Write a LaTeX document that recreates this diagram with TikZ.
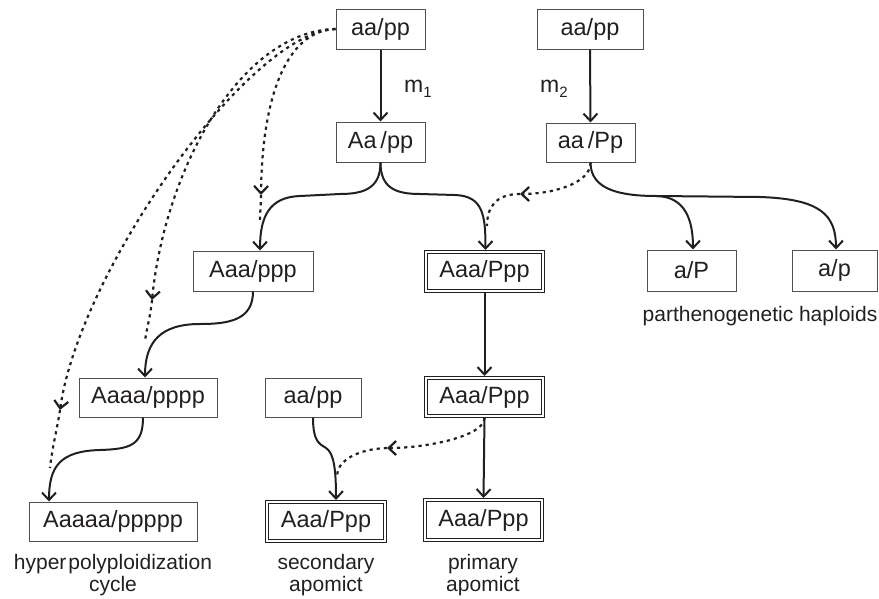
\documentclass[tikz,border=0pt]{standalone}
\usepackage{fontspec}
\setmainfont{Liberation Sans}
\usetikzlibrary{arrows.meta}
\definecolor{txt}{RGB}{35,31,32}
\definecolor{boxgray}{RGB}{80,80,80}
\newcommand\bxf{\fontsize{23.5}{28}\selectfont}
\newcommand\lbf{\fontsize{21}{25}\selectfont}
\begin{document}
\begin{tikzpicture}[x=1pt,y=-1pt,
  box/.style={draw=boxgray, line width=1pt, inner sep=0pt, font=\bxf, text=txt},
  dbox/.style={box, draw=txt, double, double distance=1.8pt, line width=0.9pt, outer sep=1.8pt},
  lab/.style={font=\lbf, text=txt, inner sep=0pt},
  plain/.style={line width=2pt, draw=txt},
  arr/.style={plain, -{Straight Barb[length=7.5pt,width=14pt]}},
  dots/.style={line width=2.2pt, draw=txt, dash pattern=on 3.2pt off 4pt},
  darr/.style={dots, -{Straight Barb[length=7.5pt,width=14pt]}}
]
\useasboundingbox (0,0) rectangle (879,598);

% nodes
\node[box, minimum width=89pt, minimum height=40pt] (t1) at (380.5,29) {aa/pp};
\node[box, minimum width=106pt, minimum height=40pt] (t2) at (590,29) {aa/pp};
\node[box, minimum width=89pt, minimum height=40pt] (n1) at (380.5,142) {Aa\,/pp};
\node[box, minimum width=89pt, minimum height=39pt] (n2) at (590.5,142.5) {aa\,/Pp};
\node[box, minimum width=120pt, minimum height=40pt] (n3) at (253,271) {Aaa/ppp};
\node[dbox, minimum width=117.4pt, minimum height=39.4pt] (d1) at (484.5,271.5) {Aaa/Ppp};
\node[box, minimum width=89pt, minimum height=41pt] (hP) at (691.5,270.5) {a/P};
\node[box, minimum width=85pt, minimum height=41pt] (hp) at (834.5,270.5) {a/p};
\node[box, minimum width=138pt, minimum height=39pt] (n4) at (148,397.5) {Aaaa/pppp};
\node[box, minimum width=96pt, minimum height=39pt] (n5) at (313,397.5) {aa/pp};
\node[dbox, minimum width=117.4pt, minimum height=38.4pt] (d2) at (484.5,397) {Aaa/Ppp};
\node[dbox, minimum width=117.4pt, minimum height=40.4pt] (d3) at (483.5,520) {Aaa/Ppp};
\node[dbox, minimum width=118.4pt, minimum height=39.4pt] (d4) at (326,521.5) {Aaa/Ppp};
\node[box, minimum width=168pt, minimum height=39pt] (n6) at (113,521.5) {Aaaaa/ppppp};

% labels
\node[lab, anchor=base west] (m1) at (404,92) {\fontsize{23}{25}\selectfont m\raisebox{-5pt}{\fontsize{15}{15}\selectfont 1}};
\node[lab, anchor=base west] (m2) at (540,92) {\fontsize{23}{25}\selectfont m\raisebox{-5pt}{\fontsize{15}{15}\selectfont 2}};
\node[lab, anchor=base] (hl) at (760,321) {parthenogenetic haploids};
\node[lab, anchor=base] (l1) at (113,569) {hyper\hspace{2pt}polyploidization};
\node[lab, anchor=base] (l2) at (113,591) {cycle};
\node[lab, anchor=base] (l3) at (326,569) {secondary};
\node[lab, anchor=base] (l4) at (326,591) {apomict};
\node[lab, anchor=base] (l5) at (483,569) {primary};
\node[lab, anchor=base] (l6) at (483,591) {apomict};

% coordinates
\coordinate (b1) at (340,194);
\coordinate (b2) at (300,196);
\coordinate (b3) at (420,194);
\coordinate (b4) at (455,195);
\coordinate (tipR) at (520,194);
\coordinate (joinR) at (487,226);
\coordinate (h1) at (657,196);
\coordinate (h2) at (760,197);
\coordinate (tipS) at (387,448);
\coordinate (joinS) at (337,476);
\coordinate (s1) at (326,448);
\coordinate (c1) at (200,324);
\coordinate (c2) at (100,450);
\coordinate (tA) at (60,410);
\coordinate (jA) at (50,468);
\coordinate (tB) at (152,300);
\coordinate (jB) at (145,342);
\coordinate (tC) at (261,195);
\coordinate (jC) at (260,222);

% solid connectors
\draw[arr] (t1.south) -- (n1.north);
\draw[arr] (t2.south) -- (n2.north);
\draw[arr] (n1.south) .. controls +(0,25) and +(25,0) .. (b1) -- (b2)
  .. controls +(-30,1) and +(0,-35) .. ([xshift=7pt]n3.north);
\draw[arr] (n1.south) .. controls +(0,25) and +(-25,0) .. (b3) -- (b4)
  .. controls +(28,1) and +(0,-35) .. ([xshift=1pt]d1.north);
\draw[arr] (n2.south) .. controls +(0,28) and +(-35,0) .. (h1) -- (h2)
  .. controls +(60,2) and +(0,-35) .. ([xshift=1.5pt]hp.north);
\draw[arr] (h1) .. controls +(28,1) and +(0,-30) .. ([xshift=1.5pt]hP.north);
\draw[arr] (d1.south) -- (d2.north);
\draw[arr] (d2.south) -- (d3.north);
\draw[arr] (n5.south) .. controls +(0,25) and +(-6,-4) .. (s1)
  .. controls +(8,5) and +(0,-30) .. ([xshift=10pt]d4.north);
\draw[arr] (n3.south) .. controls +(0,28) and +(30,0) .. (c1)
  .. controls +(-40,0) and +(0,-35) .. ([xshift=-3pt]n4.north);
\draw[arr] ([xshift=-5pt]n4.south) .. controls +(0,28) and +(30,-1) .. (c2)
  .. controls +(-40,1) and +(0,-35) .. ([xshift=-64pt]n6.north);

% dotted connectors
\draw[darr] (n2.south) .. controls +(0,22) and +(30,0) .. (tipR);
\draw[dots] (tipR) .. controls +(-25,0) and +(0,-18) .. (joinR);
\draw[darr] (d2.south) .. controls +(0,18) and +(40,0) .. (tipS);
\draw[dots] (tipS) .. controls +(-30,1) and +(0,-15) .. (joinS);
\draw[darr] (t1.west) .. controls (250,31) and (80,270) .. (tA);
\draw[dots] (tA) .. controls (57,430) and (52,448) .. (jA);
\draw[darr] (t1.west) .. controls (240,31) and (165,170) .. (tB);
\draw[dots] (tB) .. controls (150,320) and (146,330) .. (jB);
\draw[darr] (t1.west) .. controls (285,31) and (262,100) .. (tC);
\draw[dots] (tC) .. controls (261,205) and (260,212) .. (jC);
\end{tikzpicture}
\end{document}
